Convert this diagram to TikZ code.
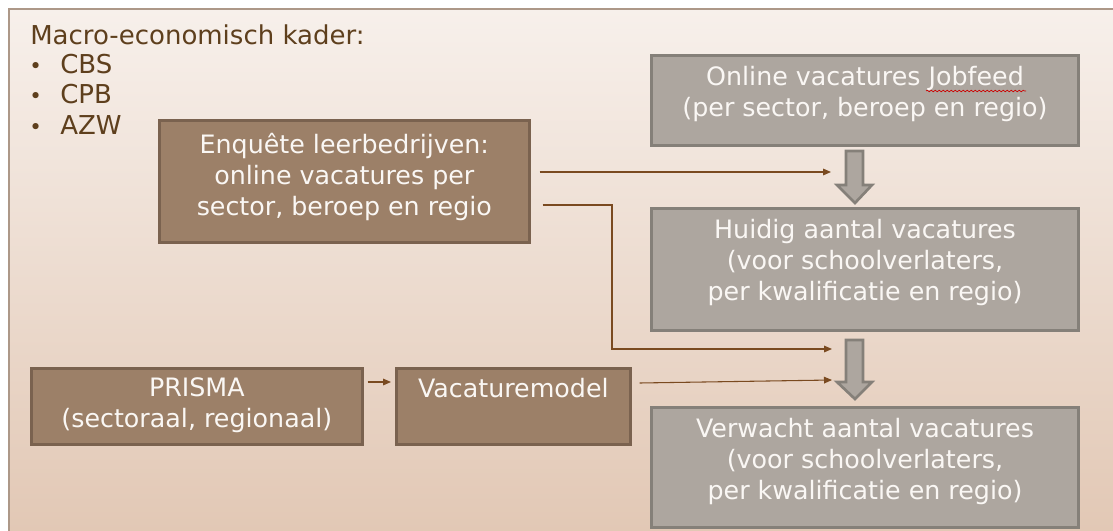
\documentclass[tikz,border=0pt]{standalone}
\usepackage{fontspec}
\setmainfont{DejaVu Sans}
\usetikzlibrary{arrows.meta,calc,decorations.pathmorphing}
\definecolor{bgtop}{HTML}{F7F0EB}
\definecolor{bgbot}{HTML}{E2C8B5}
\definecolor{framec}{HTML}{AD9888}
\definecolor{brfill}{HTML}{9C8068}
\definecolor{brdraw}{HTML}{7A624F}
\definecolor{grfill}{HTML}{ADA69F}
\definecolor{grdraw}{HTML}{858079}
\definecolor{txtw}{HTML}{FAF7F4}
\definecolor{txtb}{HTML}{5E3F1D}
\definecolor{arr}{HTML}{7A4A20}
\begin{document}
\begin{tikzpicture}[x=0.75pt,y=-0.75pt,
  boxtext/.style={text=txtw, align=center, inner sep=0pt, anchor=north west,
     font=\fontsize{19}{23.25}\selectfont},
  brownbox/.style={boxtext, fill=brfill, draw=brdraw, line width=2pt},
  graybox/.style={boxtext, fill=grfill, draw=grdraw, line width=2.25pt},
  conn/.style={draw=arr, line width=0.8pt, -{Triangle[length=6pt,width=5pt]}},
  blockarrow/.style={fill=grfill, draw=grdraw, line width=2pt, line join=miter},
  plain/.style={text=txtb, anchor=base west, inner sep=0pt, font=\fontsize{19.5}{22}\selectfont}
]
\useasboundingbox (0,0) rectangle (1113,531);
\fill[white] (0,0) rectangle (1113,531);
\shade[top color=bgtop,bottom color=bgbot] (9,9) rectangle (1113,531);
\draw[framec, line width=1.2pt] (9,531) -- (9,9) -- (1113,9);

% left text
\node[plain] (macro) at (30,45) {Macro-economisch kader:};
\node[plain, font=\fontsize{16}{20}\selectfont] (b1) at (29,74) {•};
\node[plain] (cbs) at (60,74) {CBS};
\node[plain, font=\fontsize{16}{20}\selectfont] (b2) at (29,104) {•};
\node[plain] (cpb) at (60,104) {CPB};
\node[plain, font=\fontsize{16}{20}\selectfont] (b3) at (29,135) {•};
\node[plain] (azw) at (60,135) {AZW};

% boxes
\node[brownbox, minimum width=370*0.75pt, minimum height=122*0.75pt, text depth=11pt] (enq) at (158,119)
  {Enquête leerbedrijven:\\online vacatures per\\sector, beroep en regio};
\node[graybox, minimum width=427*0.75pt, minimum height=90*0.75pt, text depth=13.5pt] (online) at (650,54)
  {Online vacatures Jobfeed\\(per sector, beroep en regio)};
\node[graybox, minimum width=427*0.75pt, minimum height=122*0.75pt, text depth=15pt] (huidig) at (650,207)
  {Huidig aantal vacatures\\(voor schoolverlaters,\\per kwalificatie en regio)};
\node[graybox, minimum width=427*0.75pt, minimum height=120*0.75pt, text depth=13pt] (verw) at (650,406)
  {Verwacht aantal vacatures\\(voor schoolverlaters,\\per kwalificatie en regio)};
\node[brownbox, minimum width=331*0.75pt, minimum height=76*0.75pt, text depth=5pt] (prisma) at (30,367)
  {PRISMA\\(sectoraal, regionaal)};
\node[brownbox, minimum width=234*0.75pt, minimum height=76*0.75pt, text depth=5pt] (vac) at (395,367)
  {Vacaturemodel\\\mbox{}};

% spell-check underline
\draw[red!80!black, line width=0.5pt, decorate, decoration={snake, amplitude=0.6pt, segment length=3pt}]
  (926,91) -- (1026,91);

% block arrows
\draw[blockarrow] (846,151) -- (863,151) -- (863,185) -- (872,185) -- (855,203) -- (837,185) -- (846,185) -- cycle;
\draw[blockarrow] (846,340) -- (863,340) -- (863,382) -- (872,382) -- (855,399) -- (837,382) -- (846,382) -- cycle;

% connectors
\coordinate (t1) at (831,172);
\coordinate (t2) at (832,349);
\coordinate (t3) at (832,380);
\coordinate (bend) at (612,205);
\draw[conn] ($(enq.north east)+(9,53)$) -- (t1);
\draw[conn] ($(enq.north east)+(12,86)$) -- (bend) -- (bend |- t2) -- (t2);
\draw[conn] ($(prisma.north east)+(4,15)$) -- ($(vac.north west)+(-4,15)$);
\draw[conn] ($(vac.north east)+(8,16)$) -- (t3);
\end{tikzpicture}
\end{document}
